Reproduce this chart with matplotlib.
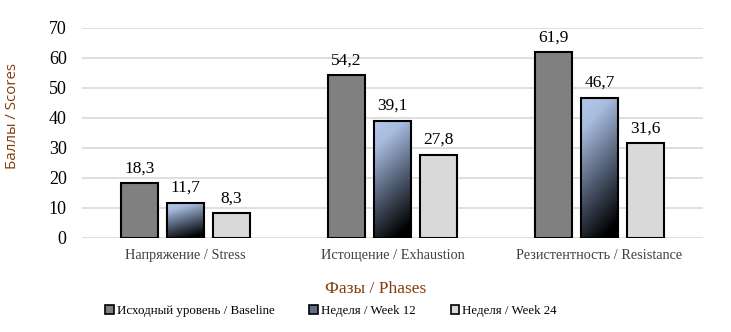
import numpy as np
import matplotlib
matplotlib.use("Agg")
import matplotlib.pyplot as plt
from matplotlib.colors import LinearSegmentedColormap
from matplotlib.patches import Patch

categories = ["Напряжение / Stress", "Истощение / Exhaustion", "Резистентность / Resistance"]
series_names = ["Исходный уровень / Baseline", "Неделя / Week 12", "Неделя / Week 24"]
baseline = [18.3, 54.2, 61.9]
week12 = [11.7, 39.1, 46.7]
week24 = [8.3, 27.8, 31.6]
yticks = [0, 10, 20, 30, 40, 50, 60, 70]

serif = "Liberation Serif"
label_color = "#843C0C"
grad_cmap = LinearSegmentedColormap.from_list(
    "blue_black", [(0.0, "#b4c7e7"), (0.2, "#a9bde0"), (0.6, "#4f5b70"), (1.0, "#000000")])


def gradient_bar(ax, rect):
    # light blue at the top, fading to black at the lower right
    x, y = rect.get_x(), rect.get_y()
    w, h = rect.get_width(), rect.get_height()
    u = np.linspace(0, 1, 40)[None, :]
    v = np.linspace(0, 1, 200)[:, None]
    t = np.clip(0.25 * u + 0.85 * (1 - v), 0, 1)
    im = ax.imshow(t, cmap=grad_cmap, vmin=0, vmax=1, origin="lower",
                   extent=[x, x + w, y, y + h], aspect="auto", zorder=2)
    im.set_clip_path(rect)


fig = plt.figure(figsize=(7.31, 3.32), dpi=100)
ax = fig.add_axes([82 / 731, 1 - 238 / 332, (703 - 82) / 731, (238 - 28) / 332])

x = np.arange(len(categories))
width = 0.179
step = 0.222

b1 = ax.bar(x - step, baseline, width, color="#808080", edgecolor="black", linewidth=1.5, zorder=3)
b2 = ax.bar(x, week12, width, color="none", edgecolor="black", linewidth=1.5, zorder=3)
b3 = ax.bar(x + step, week24, width, color="#d9d9d9", edgecolor="black", linewidth=1.5, zorder=3)
for r in b2:
    gradient_bar(ax, r)

for bars in (b1, b2, b3):
    for r in bars:
        ax.annotate(f"{r.get_height():.1f}".replace(".", ","),
                    (r.get_x() + r.get_width() / 2, r.get_height()),
                    xytext=(0, 5), textcoords="offset points", ha="center", va="bottom",
                    fontsize=12.5, family=serif, color="#000000")

ax.set_xlim(-0.5, 2.5)
ax.set_ylim(0, 70)
ax.set_yticks(yticks)
ax.set_yticklabels([str(t) for t in yticks], family=serif, fontsize=13)
ax.set_xticks(x)
ax.set_xticklabels(categories, family=serif, fontsize=10.3, color="#404040")
ax.tick_params(axis="both", length=0)
ax.tick_params(axis="y", pad=11)
ax.tick_params(axis="x", pad=8)
ax.grid(axis="y", color="#d9d9d9", linewidth=1.2, zorder=0)
ax.set_axisbelow(True)
for s in ax.spines.values():
    s.set_visible(False)

ax.set_ylabel("Баллы / Scores", family="Open Sans", fontsize=10.8, color=label_color)
ax.yaxis.set_label_coords(-(82 - 20) / 621, (238 - 116) / 210)
ax.set_xlabel("Фазы / Phases", family=serif, fontsize=12.5, color=label_color)
ax.xaxis.set_label_coords((376 - 82) / 621, -(281 - 238) / 210)

handles = [
    Patch(facecolor="#808080", edgecolor="black", linewidth=1.2),
    Patch(facecolor="#5f6f8c", edgecolor="black", linewidth=1.2),
    Patch(facecolor="#d9d9d9", edgecolor="black", linewidth=1.2),
]
fig.legend(handles, series_names, loc="center", bbox_to_anchor=(331 / 731, 1 - 311 / 332),
           ncol=3, frameon=False, prop={"family": serif, "size": 9.3},
           handlelength=0.65, handleheight=0.65, handletextpad=0.25, columnspacing=2.7)

fig.savefig("out.png", dpi=100)
